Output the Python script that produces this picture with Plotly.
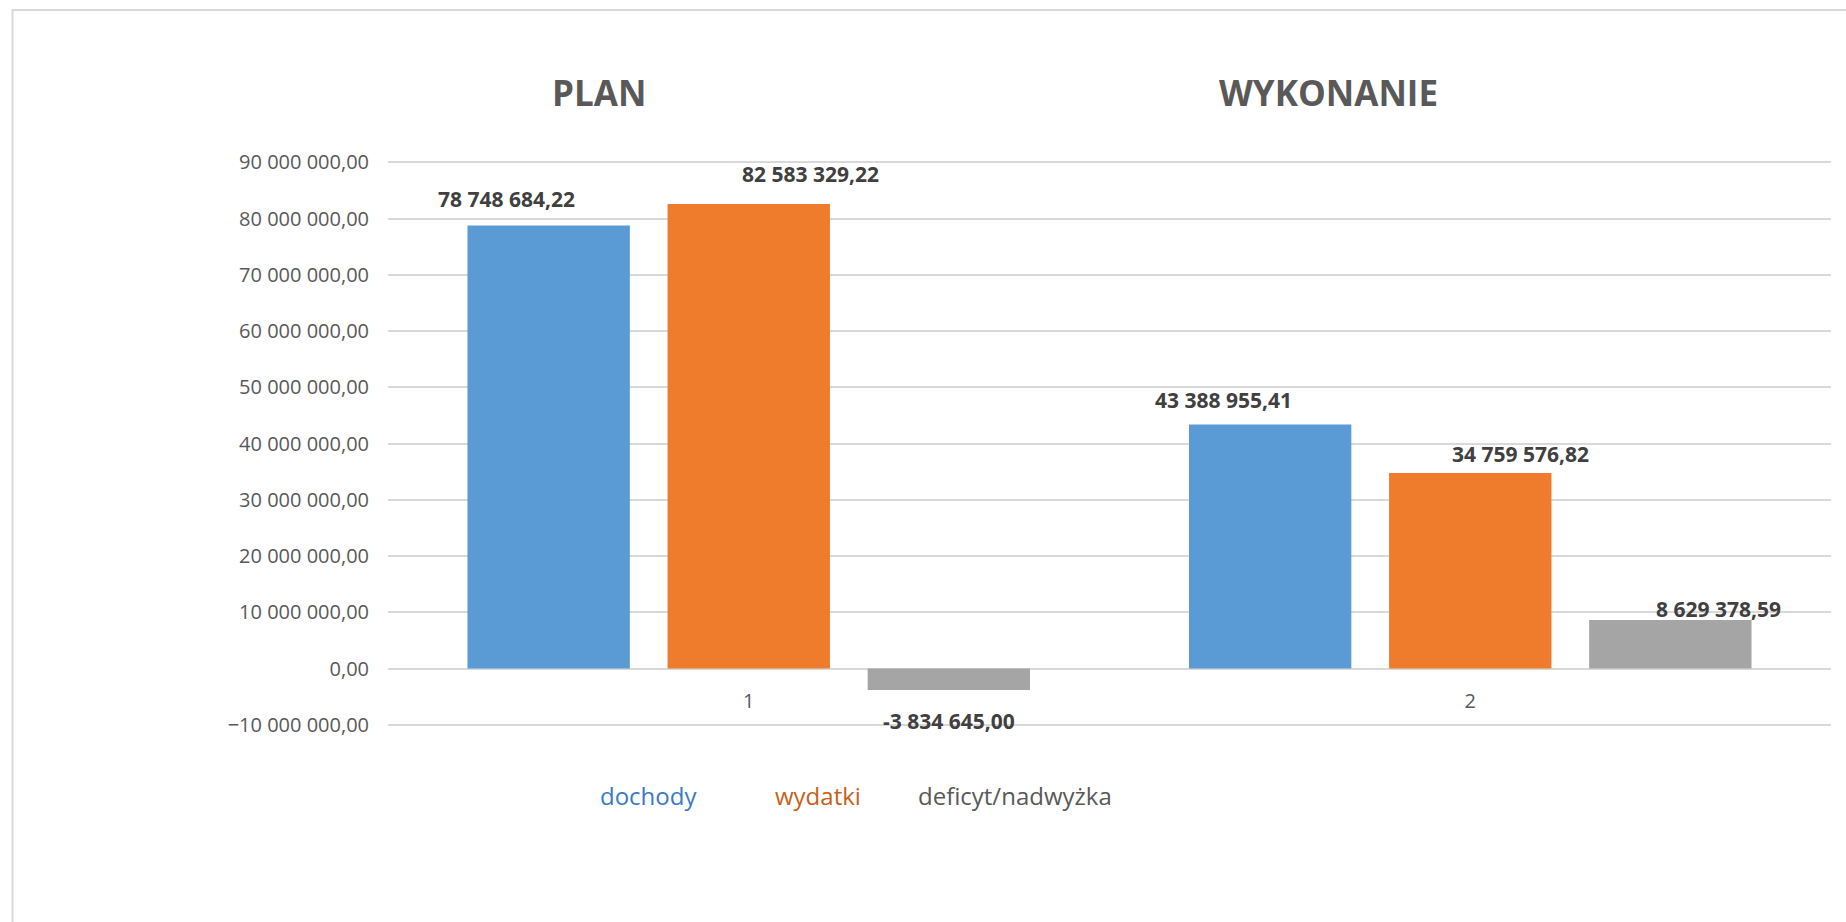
import plotly.graph_objects as go

# ---- data ----
categories = ["1", "2"]
series_names = ["dochody", "wydatki", "deficyt/nadwyżka"]
dochody = [78748684.22, 43388955.41]
wydatki = [82583329.22, 34759576.82]
deficyt = [-3834645.00, 8629378.59]
panel_titles = ["PLAN", "WYKONANIE"]
y_tick_values = [-10000000, 0, 10000000, 20000000, 30000000, 40000000,
                 50000000, 60000000, 70000000, 80000000, 90000000]

# ---- style ----
bar_colors = ["#5A9AD5", "#EF7B2C", "#A5A5A5"]
legend_colors = ["#3A7BC4", "#C95F16", "#595959"]
label_xshift = [[-42, -47], [62, 50], [0, 48]]
label_yshift = [[27, 24], [30, 19], [-31, 11]]
bargap = 0.168
bargroupgap = 0.1885
W, H = 1846, 922
ML, MR, MT, MB = 388, 15, 160, 195
PW, PH = W - ML - MR, H - MT - MB


def px_x(p):
    return (p - ML) / PW


def px_y(p):
    return (H - MB - p) / PH


all_series = [dochody, wydatki, deficyt]

fig = go.Figure()
for name, vals, col in zip(series_names, all_series, bar_colors):
    fig.add_trace(go.Bar(x=categories, y=vals, name=name,
                         marker=dict(color=col, line=dict(width=0)),
                         showlegend=False, hoverinfo="x+y+name"))

annotations = []
# value labels
for si, vals in enumerate(all_series):
    for ci, v in enumerate(vals):
        xpos = ci + (si - 1) * (1 - bargap) / 3
        txt = f"{v:,.2f}".replace(",", " ").replace(".", ",")
        annotations.append(dict(
            x=xpos, y=v, xref="x", yref="y", text=txt, showarrow=False,
            xanchor="center", yanchor="middle",
            xshift=label_xshift[si][ci], yshift=label_yshift[si][ci],
            font=dict(family="Open Sans", size=21, color="#404040", weight="bold")))

# panel titles
for t, cx in zip(panel_titles, [599, 1328]):
    annotations.append(dict(
        x=px_x(cx), y=px_y(93), xref="paper", yref="paper", text=t,
        showarrow=False, xanchor="center", yanchor="middle",
        font=dict(family="Open Sans", size=35, color="#595959", weight="bold")))

# legend (coloured text, no symbols)
for name, col, cx in zip(series_names, legend_colors, [648, 818, 1014.5]):
    annotations.append(dict(
        x=px_x(cx), y=px_y(795), xref="paper", yref="paper", text=name,
        showarrow=False, xanchor="center", yanchor="middle",
        font=dict(family="Open Sans", size=24, color=col)))

pad = 400000
fig.update_layout(
    width=W, height=H,
    margin=dict(l=ML, r=MR, t=MT, b=MB, pad=0),
    paper_bgcolor="white", plot_bgcolor="white",
    barmode="group", bargap=bargap, bargroupgap=bargroupgap,
    separators=", ",
    annotations=annotations,
    shapes=[dict(type="rect", xref="paper", yref="paper",
                 x0=px_x(12.5), x1=px_x(1870), y0=px_y(950), y1=px_y(10),
                 line=dict(color="#D9D9D9", width=2), fillcolor="rgba(0,0,0,0)",
                 layer="below")],
    xaxis=dict(type="category", showgrid=False, showline=False, zeroline=False,
               ticks="", anchor="free", position=px_y(669.3),
               ticklabelstandoff=18,
               tickfont=dict(family="Open Sans", size=20, color="#595959")),
    yaxis=dict(range=[y_tick_values[0] - pad, y_tick_values[-1] + pad],
               tickvals=y_tick_values,
               tickformat=",.2f", showgrid=True, gridcolor="#D9D9D9",
               gridwidth=1.6, zeroline=True, zerolinecolor="#D9D9D9",
               zerolinewidth=1.6, showline=False, ticks="",
               ticklabelstandoff=18,
               tickfont=dict(family="Open Sans", size=20, color="#595959")),
    font=dict(family="Open Sans"),
)

fig.write_html("out.html", config={"displayModeBar": False},
               post_script="document.body.style.margin='0';")
